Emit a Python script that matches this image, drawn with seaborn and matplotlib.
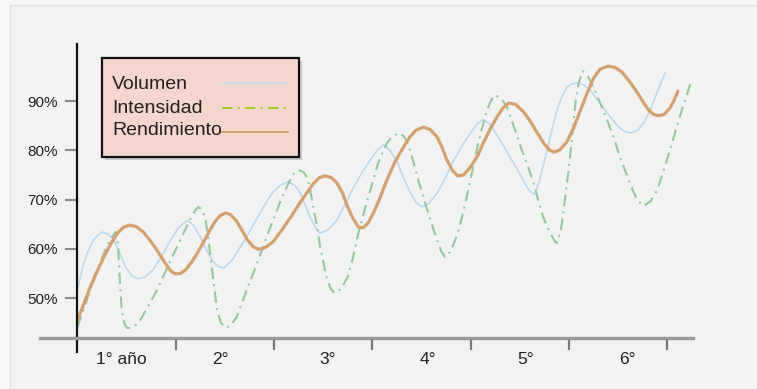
import pandas as pd
import matplotlib.pyplot as plt
import seaborn as sns
from matplotlib.patches import Rectangle
from matplotlib.lines import Line2D

# Values (x in years, y in %)
vol_x = [0.00, 0.05, 0.10, 0.17, 0.25, 0.31, 0.37, 0.43, 0.49, 0.55, 0.62, 0.69, 0.77,
         0.86, 0.95, 1.03, 1.12, 1.18, 1.25, 1.31, 1.37, 1.43, 1.49, 1.57, 1.66, 1.76,
         1.86, 1.93, 1.99, 2.07, 2.14, 2.21, 2.27, 2.32, 2.37, 2.42, 2.47, 2.55, 2.64,
         2.72, 2.81, 2.90, 2.98, 3.05, 3.11, 3.18, 3.26, 3.32, 3.39, 3.45, 3.51, 3.58,
         3.66, 3.75, 3.83, 3.92, 4.00, 4.07, 4.13, 4.20, 4.30, 4.39, 4.48, 4.56, 4.60,
         4.65, 4.70, 4.78, 4.83, 4.88, 4.93, 4.98, 5.03, 5.09, 5.15, 5.22, 5.30, 5.39,
         5.46, 5.52, 5.57, 5.63, 5.70, 5.76, 5.82, 5.88, 5.93, 5.98]
vol_y = [51.5, 56.0, 59.1, 62.0, 63.4, 63.0, 61.8, 59.2, 56.3, 54.6, 53.9, 54.3, 55.7,
         58.6, 61.8, 64.3, 65.8, 64.8, 62.4, 59.9, 57.7, 56.4, 56.1, 57.6, 60.4, 63.8,
         67.3, 69.7, 71.5, 73.0, 73.6, 72.9, 71.3, 68.8, 66.4, 64.4, 63.2, 63.8, 65.8,
         68.9, 72.5, 75.6, 78.0, 80.0, 81.1, 80.0, 77.4, 74.3, 71.3, 69.3, 68.5, 69.3,
         71.3, 74.6, 78.0, 81.1, 83.5, 85.4, 86.3, 85.2, 82.1, 79.0, 76.0, 73.1, 71.8,
         71.0, 73.8, 80.1, 84.3, 88.2, 90.9, 92.8, 93.5, 93.7, 93.3, 92.2, 90.0, 87.6,
         85.8, 84.5, 83.8, 83.5, 84.1, 85.5, 87.8, 90.8, 93.3, 95.7]

int_x = [0.00, 0.07, 0.13, 0.20, 0.27, 0.32, 0.36, 0.39, 0.41, 0.42, 0.43, 0.44, 0.45,
         0.47, 0.49, 0.51, 0.55, 0.60, 0.64, 0.72, 0.81, 0.88, 0.95, 1.02, 1.08, 1.15,
         1.20, 1.23, 1.27, 1.30, 1.33, 1.37, 1.40, 1.42, 1.46, 1.51, 1.56, 1.62, 1.72,
         1.83, 1.91, 1.99, 2.07, 2.15, 2.20, 2.25, 2.30, 2.34, 2.37, 2.40, 2.44, 2.47,
         2.51, 2.54, 2.58, 2.62, 2.68, 2.75, 2.80, 2.85, 2.90, 2.95, 3.01, 3.06, 3.11,
         3.15, 3.21, 3.27, 3.32, 3.36, 3.41, 3.46, 3.51, 3.56, 3.61, 3.66, 3.70, 3.74,
         3.80, 3.87, 3.92, 3.97, 4.02, 4.07, 4.12, 4.17, 4.21, 4.25, 4.31, 4.37, 4.44,
         4.51, 4.58, 4.64, 4.69, 4.74, 4.81, 4.86, 4.88, 4.92, 4.96, 4.99, 5.02, 5.05,
         5.07, 5.10, 5.14, 5.19, 5.25, 5.32, 5.39, 5.46, 5.52, 5.59, 5.65, 5.70, 5.76,
         5.83, 5.90, 5.96, 6.03, 6.09, 6.15, 6.20, 6.24]
int_y = [44.1, 48.0, 51.6, 55.4, 59.1, 61.3, 62.6, 63.4, 62.0, 58.3, 54.5, 51.0, 48.0,
         45.5, 44.3, 43.9, 44.0, 44.6, 45.5, 48.3, 51.6, 54.7, 57.7, 60.6, 63.2, 66.0,
         67.8, 68.5, 67.9, 66.3, 62.5, 55.7, 51.0, 47.6, 45.0, 43.9, 44.5, 46.1, 51.5,
         57.1, 61.5, 65.8, 69.8, 73.4, 75.2, 76.0, 75.6, 74.4, 71.8, 68.5, 64.3, 60.4,
         56.6, 53.7, 51.8, 51.0, 51.8, 54.3, 57.9, 62.4, 66.2, 69.9, 73.9, 77.4, 79.7,
         81.5, 82.9, 83.5, 82.9, 81.5, 78.3, 74.6, 71.2, 67.9, 64.7, 61.8, 59.6, 58.3,
         59.5, 63.2, 67.0, 71.3, 76.0, 80.7, 84.7, 88.2, 90.2, 91.2, 90.6, 88.8, 84.9,
         80.7, 77.0, 73.4, 69.8, 66.4, 63.2, 61.4, 61.2, 63.8, 69.9, 74.8, 80.1, 86.0,
         90.2, 93.6, 96.1, 95.2, 92.8, 89.6, 86.1, 82.4, 78.6, 75.0, 71.9, 69.8, 68.7,
         69.6, 71.9, 75.6, 80.1, 84.2, 88.2, 91.2, 93.7]

ren_x = [0.00, 0.07, 0.13, 0.20, 0.27, 0.34, 0.41, 0.47, 0.53, 0.60, 0.67, 0.74, 0.81,
         0.87, 0.92, 0.96, 1.00, 1.05, 1.10, 1.16, 1.22, 1.29, 1.35, 1.40, 1.45, 1.51,
         1.56, 1.62, 1.68, 1.73, 1.79, 1.84, 1.90, 1.95, 1.99, 2.08, 2.17, 2.26, 2.34,
         2.40, 2.46, 2.52, 2.58, 2.64, 2.70, 2.75, 2.80, 2.86, 2.91, 2.96, 3.02, 3.08,
         3.15, 3.23, 3.32, 3.38, 3.44, 3.52, 3.59, 3.66, 3.71, 3.76, 3.82, 3.87, 3.93,
         4.00, 4.07, 4.13, 4.20, 4.27, 4.33, 4.39, 4.46, 4.54, 4.61, 4.68, 4.75, 4.80,
         4.85, 4.91, 4.98, 5.05, 5.12, 5.19, 5.25, 5.32, 5.40, 5.47, 5.54, 5.62, 5.70,
         5.76, 5.81, 5.86, 5.91, 5.97, 6.03, 6.07, 6.11]
ren_y = [45.5, 49.0, 52.2, 55.4, 58.3, 61.0, 63.2, 64.4, 64.8, 64.5, 63.4, 61.7, 59.7,
         57.8, 56.3, 55.3, 54.9, 55.0, 55.7, 57.2, 59.1, 61.6, 63.8, 65.5, 66.7, 67.3,
         66.9, 65.6, 63.6, 61.8, 60.4, 59.9, 60.1, 60.8, 61.4, 63.8, 66.4, 69.2, 71.5,
         73.2, 74.4, 74.8, 74.5, 73.4, 71.2, 68.5, 66.3, 64.4, 64.3, 65.3, 67.6, 70.4,
         74.0, 77.6, 80.7, 82.6, 84.0, 84.7, 84.2, 82.7, 80.6, 78.0, 75.8, 74.8, 75.0,
         76.6, 78.8, 81.5, 84.3, 86.8, 88.6, 89.6, 89.3, 87.8, 85.8, 83.5, 81.3, 80.1,
         79.6, 80.1, 81.7, 84.6, 88.2, 91.8, 94.6, 96.5, 97.1, 96.8, 95.9, 93.9, 91.6,
         89.7, 88.2, 87.3, 87.0, 87.3, 88.6, 90.1, 92.0]

series = ['Volumen', 'Intensidad', 'Rendimiento']
y_ticks = [50, 60, 70, 80, 90]
year_labels = ['1° año', '2°', '3°', '4°', '5°', '6°']

sns.set_style('ticks')
plt.rcParams['font.family'] = ['Liberation Sans', 'DejaVu Sans']

W, H = 757, 389
fig = plt.figure(figsize=(W / 100, H / 100), dpi=100, facecolor='#f8f8f8')
# inner panel behind everything
fig.patches.append(Rectangle((10 / W, -0.1), 1.1, 1.1 - 5 / H, transform=fig.transFigure,
                             fc='#f2f2f2', ec='#e3e3e3', lw=1, zorder=-5))

ax = fig.add_axes([40 / W, 1 - 352.2 / H, 656.6 / W, 307.8 / H])
ax.set_facecolor('none')
ax.set_zorder(1)

sns.lineplot(x=vol_x, y=vol_y, ax=ax, color='#bcd8ec', lw=1.2, estimator=None, sort=False)
sns.lineplot(x=int_x, y=int_y, ax=ax, color='#93c89f', lw=1.5, estimator=None, sort=False,
             linestyle=(0, (5.5, 2.5, 1, 2.5)))
sns.lineplot(x=ren_x, y=ren_y, ax=ax, color='#d6a06c', lw=2.3, estimator=None, sort=False)

ax.set_xlim(-0.38, 6.3)
ax.set_ylim(39, 101.5)
ax.set_xlabel('')
ax.set_ylabel('')

for s in ['top', 'right']:
    ax.spines[s].set_visible(False)
ax.spines['left'].set_position(('data', 0))
ax.spines['left'].set_color('#111111')
ax.spines['left'].set_linewidth(1.6)
ax.spines['bottom'].set_position(('data', 41.9))
ax.spines['bottom'].set_color('#9a9a9a')
ax.spines['bottom'].set_linewidth(2.4)
ax.spines['bottom'].set_bounds(-0.38, 6.26)

ax.set_yticks(y_ticks)
ax.set_yticklabels([f'{v}%' for v in y_ticks])
ax.tick_params(axis='y', direction='out', length=8.6, width=1.5, color='#8a8a8a',
               pad=5.5, labelsize=11, labelcolor='#222222')

ax.set_xticks(range(1, 7))
ax.set_xticklabels([])
ax.set_xticks([0.45, 1.455, 2.55, 3.57, 4.56, 5.6], minor=True)
ax.set_xticklabels(year_labels, minor=True)
ax.tick_params(axis='x', which='major', direction='out', length=8.6, width=1.6, color='#777777')
ax.tick_params(axis='x', which='minor', length=0, pad=10, labelsize=12.5, labelcolor='#222222')


# ----------------- Legend box -----------------
def fxy(px, py):
    return px / W, 1 - py / H


fig.patches.append(Rectangle(fxy(105, 160), 197 / W, 99 / H, transform=fig.transFigure,
                             fc='#c9c9c9', ec='none', zorder=5))
fig.patches.append(Rectangle(fxy(102, 157), 197 / W, 99 / H, transform=fig.transFigure,
                             fc='#f4d6cd', ec='#111111', lw=1.6, zorder=6))

legend_colors = ['#c6dcee', '#a6cc2c', '#d6a06c']
legend_styles = ['-', (0, (5, 2.5, 1, 2.5)), '-']
legend_widths = [1.2, 1.5, 1.4]
baselines = [89, 113, 135]
line_ys = [83, 108, 132]
for name, col, ls, lw, yb, yl in zip(series, legend_colors, legend_styles, legend_widths,
                                      baselines, line_ys):
    x0, y0 = fxy(112, yb)
    fig.text(x0, y0, name, va='baseline', ha='left', fontsize=14, color='#222222', zorder=7)
    fig.lines.append(Line2D([222 / W, 288 / W], [1 - yl / H] * 2, transform=fig.transFigure,
                            color=col, lw=lw, linestyle=ls, zorder=7))

fig.savefig('out.png', dpi=100, facecolor=fig.get_facecolor())
